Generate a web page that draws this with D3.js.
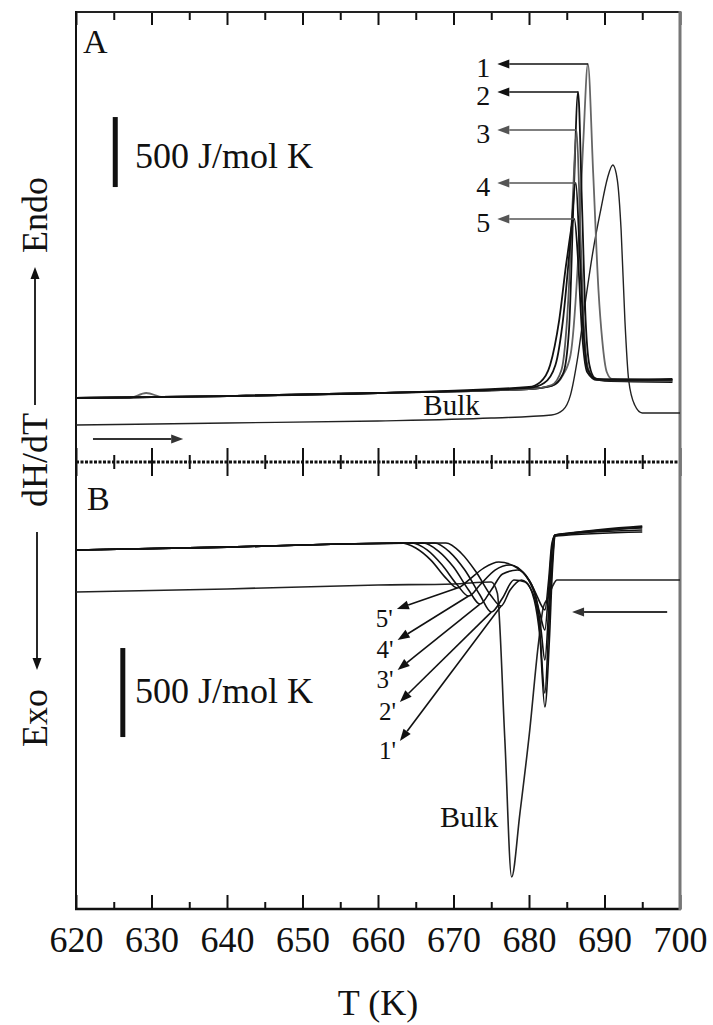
<!DOCTYPE html>
<html>
<head>
<meta charset="utf-8">
<script src="https://cdn.jsdelivr.net/npm/d3@7"></script>
<style>
  body { margin: 0; background: #fff; }
  text { font-family: "Liberation Serif", "DejaVu Serif", serif; fill: #111; }
</style>
</head>
<body>
<div id="container"></div>
<script>
"use strict";

const width = 713;
const height = 1025;

// temperature ticks
const majorTicks = [620, 630, 640, 650, 660, 670, 680, 690, 700];
const minorTicks = [625, 635, 645, 655, 665, 675, 685, 695];

// panel A (heating), dH/dT in J/mol K, offset baseline -> [T, value]
const heat1 = [[620,457],[627,457],[629.3,493],[631.5,464],[640,471],[660,493],[680,521],[683,543],[684.5,621],[685.5,764],[686.4,1350],[687.2,2300],[687.8,2843],[688.5,2064],[689.2,1229],[689.7,871],[690.3,643],[691,593],[699,586]];
const heat2 = [[620,457],[640,471],[660,493],[680,521],[683,543],[684.5,629],[685.3,943],[685.9,1871],[686.5,2643],[687,1871],[687.5,1014],[688,693],[688.7,600],[690,579],[699,571]];
const heat3 = [[620,457],[640,471],[660,493],[680,521],[683,550],[684.3,657],[685.2,1157],[685.8,1871],[686.3,2371],[686.8,1657],[687.3,943],[687.9,657],[689,586],[699,579]];
const heat4 = [[620,457],[640,471],[660,493],[680,529],[682,564],[683.5,693],[684.5,1014],[685.5,1586],[686.2,1993],[686.7,1514],[687.2,943],[687.8,657],[689,593],[699,586]];
const heat5 = [[620,457],[640,471],[660,493],[680,536],[681.5,571],[682.8,693],[684,1014],[685,1443],[686,1736],[686.5,1443],[687,943],[687.7,643],[689,586],[699,593]];
const heatBulk = [[620,264],[640,279],[660,293],[675,314],[683,336],[684.5,371],[685.5,479],[686.4,729],[687.5,1157],[688.5,1514],[689.5,1800],[690.4,2029],[691.1,2121],[691.7,2014],[692.2,1657],[692.7,1014],[693.2,586],[694,407],[695,350],[700,350]];

// panel B (cooling)
const cool5 = [[620,-494],[640,-478],[655,-461],[663,-455],[665,-483],[667,-551],[669,-652],[670.5,-708],[672,-663],[674,-596],[676,-562],[678,-584],[680,-663],[681,-747],[681.6,-803],[682.1,-831],[682.6,-663],[683,-466],[683.4,-416],[685,-404],[695,-360]];
const cool4 = [[620,-494],[640,-478],[655,-461],[664.5,-455],[666.5,-494],[668.5,-579],[670.5,-691],[672,-753],[673.5,-691],[675.5,-607],[677.5,-579],[679.5,-635],[680.8,-747],[681.5,-860],[682.1,-944],[682.6,-719],[683,-494],[683.4,-410],[688,-393],[695,-365]];
const cool3 = [[620,-494],[640,-478],[655,-461],[666,-455],[668,-500],[670,-590],[672,-719],[673.5,-798],[675,-719],[676.5,-629],[678.5,-607],[680,-663],[681,-775],[681.6,-944],[682.1,-1112],[682.6,-831],[683,-522],[683.4,-410],[695,-371]];
const cool2 = [[620,-494],[640,-478],[655,-461],[667.5,-455],[669.5,-506],[671.5,-607],[673.5,-747],[675,-843],[676.5,-764],[678,-663],[679.5,-674],[680.7,-775],[681.5,-1000],[682.1,-1298],[682.6,-944],[683.1,-551],[683.5,-410],[695,-382]];
const cool1 = [[620,-494],[640,-478],[655,-461],[669,-455],[671,-511],[673,-618],[675,-753],[676.3,-809],[677.5,-719],[679,-663],[680.3,-719],[681.3,-888],[682.1,-1376],[682.7,-1000],[683.1,-607],[683.5,-416],[695,-393]];
const coolBulk = [[620,-730],[640,-713],[660,-691],[670,-685],[675,-674],[675.8,-736],[676.8,-1560],[677.7,-2331],[678.8,-1972],[680.1,-1506],[681.2,-1039],[681.9,-815],[682.5,-764],[683.2,-691],[683.7,-663],[700,-663]];

// label pointers: label, arrow tip [T, value]
const heatLabels = ["1", "2", "3", "4", "5"];
const heatTipT = 675.8;
const coolLabels = ["1'", "2'", "3'", "4'", "5'"];
const coolTips = [[662.9,-1567],[662.9,-1348],[662.6,-1169],[662.6,-1000],[662.5,-826]];

const x = d3.scaleLinear().domain([620, 700]).range([76, 680]);
const yA = d3.scaleLinear().domain([0, 3200]).range([462, 14]);
const yB = d3.scaleLinear().domain([-2511, 0]).range([909, 462]);

const svg = d3.select("#container").append("svg")
    .attr("width", width)
    .attr("height", height);

// draw a line with a filled arrowhead at (x2,y2)
function arrow(g, x1, y1, x2, y2, color, w) {
    color = color || "#111";
    const a = Math.atan2(y2 - y1, x2 - x1);
    const L = 12, H = 4.5;
    const bx = x2 - L * Math.cos(a), by = y2 - L * Math.sin(a);
    g.append("line")
        .attr("x1", x1).attr("y1", y1).attr("x2", bx).attr("y2", by)
        .style("stroke", color).style("stroke-width", w || 1.6);
    g.append("path")
        .attr("d", "M" + x2 + "," + y2 +
            "L" + (bx - H * Math.sin(a)) + "," + (by + H * Math.cos(a)) +
            "L" + (bx + H * Math.sin(a)) + "," + (by - H * Math.cos(a)) + "Z")
        .style("fill", color);
}

// ---- axes / frame
const frame = svg.append("g");

function tickAxis(axisFn, ticks, size, ty) {
    const g = frame.append("g")
        .attr("transform", "translate(0," + ty + ")")
        .call(axisFn(x).tickValues(ticks).tickSizeInner(size).tickSizeOuter(0).tickFormat(""));
    g.select(".domain").remove();
    g.selectAll("line").style("stroke", "#111").style("stroke-width", 2);
    return g;
}
// top of A
tickAxis(d3.axisTop, majorTicks, -13, 12);
tickAxis(d3.axisTop, minorTicks, -8, 12);
// shared divider
tickAxis(d3.axisBottom, majorTicks, -14, 462);
tickAxis(d3.axisBottom, minorTicks, -7, 462);
tickAxis(d3.axisTop, majorTicks, -14, 462);
tickAxis(d3.axisTop, minorTicks, -7, 462);
// bottom of B with labels
tickAxis(d3.axisBottom, minorTicks, -7, 909);
const xAxis = frame.append("g")
    .attr("transform", "translate(0,909)")
    .call(d3.axisBottom(x).tickValues(majorTicks).tickSizeInner(-14).tickSizeOuter(0).tickPadding(17).tickFormat(d3.format("d")));
xAxis.select(".domain").remove();
xAxis.selectAll("line").style("stroke", "#111").style("stroke-width", 2);
xAxis.selectAll("text").style("font-size", "36px").style("font-family", "Liberation Serif, serif").attr("fill", "#111");

frame.append("line").attr("x1", 76).attr("x2", 680).attr("y1", 12).attr("y2", 12)
    .style("stroke", "#222").style("stroke-width", 1.8);
frame.append("line").attr("x1", 76).attr("x2", 680).attr("y1", 462).attr("y2", 462)
    .style("stroke", "#111").style("stroke-width", 3).style("stroke-dasharray", "3,1.5");
frame.append("line").attr("x1", 75).attr("x2", 681).attr("y1", 909).attr("y2", 909)
    .style("stroke", "#111").style("stroke-width", 2.5);
frame.append("line").attr("x1", 76).attr("x2", 76).attr("y1", 11).attr("y2", 910)
    .style("stroke", "#111").style("stroke-width", 2);
frame.append("line").attr("x1", 680).attr("x2", 680).attr("y1", 11).attr("y2", 910)
    .style("stroke", "#777").style("stroke-width", 3);

frame.append("text").attr("x", 378).attr("y", 1015).attr("text-anchor", "middle")
    .style("font-size", "36px").text("T (K)");

// ---- y label with endo / exo arrows
const ylab = svg.append("g");
[["Endo", 215], ["dH/dT", 460], ["Exo", 718]].forEach(d => {
    ylab.append("text")
        .attr("transform", "translate(47," + d[1] + ") rotate(-90)")
        .attr("text-anchor", "middle")
        .style("font-size", "36px")
        .text(d[0]);
});
arrow(ylab, 35, 405, 35, 267, "#111", 1.8);
arrow(ylab, 37, 532, 37, 670, "#111", 1.8);

// ---- curves
const lineA = d3.line().x(d => x(d[0])).y(d => yA(d[1])).curve(d3.curveMonotoneX);
const lineB = d3.line().x(d => x(d[0])).y(d => yB(d[1])).curve(d3.curveMonotoneX);

const gA = svg.append("g");
const heatCurves = [heat1, heat2, heat3, heat4, heat5];
const heatColors = ["#666", "#111", "#555", "#111", "#111"];
gA.append("path").attr("d", lineA(heatBulk))
    .style("fill", "none").style("stroke", "#222").style("stroke-width", 1.4);
heatCurves.forEach((c, i) => {
    gA.append("path").attr("d", lineA(c))
        .style("fill", "none").style("stroke", heatColors[i]).style("stroke-width", 1.8);
});

// peak pointers 1..5
heatCurves.forEach((c, i) => {
    const pk = c.reduce((a, b) => b[1] > a[1] ? b : a);
    const py = yA(pk[1]);
    arrow(gA, x(pk[0]), py, x(heatTipT), py, i >= 2 ? "#555" : "#111", 1.6);
    gA.append("text").attr("x", x(heatTipT) - 7).attr("y", py + 13)
        .attr("text-anchor", "end").style("font-size", "28px").text(heatLabels[i]);
});

gA.append("text").attr("x", x(666)).attr("y", yA(336))
    .style("font-size", "29px").text("Bulk");
gA.append("text").attr("x", 83).attr("y", 53).style("font-size", "34px").text("A");

// scale bar A
gA.append("line").attr("x1", x(625.2)).attr("x2", x(625.2)).attr("y1", yA(1964)).attr("y2", yA(2464))
    .style("stroke", "#111").style("stroke-width", 5);
gA.append("text").attr("x", x(627.8)).attr("y", yA(2464) + 51)
    .style("font-size", "36px").text("500 J/mol K");
// heating direction
arrow(gA, x(622.25), yA(164), x(634.2), yA(164), "#333", 2);

const gB = svg.append("g");
const coolCurves = [cool1, cool2, cool3, cool4, cool5];
gB.append("path").attr("d", lineB(coolBulk))
    .style("fill", "none").style("stroke", "#222").style("stroke-width", 1.6);
coolCurves.forEach(c => {
    gB.append("path").attr("d", lineB(c))
        .style("fill", "none").style("stroke", "#111").style("stroke-width", 1.6);
});

// pointers 1'..5' from curve minima of the exo shoulder
coolCurves.forEach((c, i) => {
    const mn = c.filter(d => d[0] < 677).reduce((a, b) => b[1] < a[1] ? b : a);
    const tip = coolTips[i];
    arrow(gB, x(mn[0]), yB(mn[1]), x(tip[0]), yB(tip[1]), "#111", 1.6);
    gB.append("text").attr("x", x(tip[0]) - 4).attr("y", yB(tip[1]) + 18)
        .attr("text-anchor", "end").style("font-size", "25px").text(coolLabels[i]);
});

gB.append("text").attr("x", x(668.2)).attr("y", yB(-2051))
    .style("font-size", "30px").text("Bulk");
gB.append("text").attr("x", 87).attr("y", 510).style("font-size", "34px").text("B");

// scale bar B
gB.append("line").attr("x1", x(626.2)).attr("x2", x(626.2)).attr("y1", yB(-1045)).attr("y2", yB(-1545))
    .style("stroke", "#111").style("stroke-width", 5);
gB.append("text").attr("x", x(627.8)).attr("y", yB(-1045) + 55)
    .style("font-size", "36px").text("500 J/mol K");
// cooling direction
arrow(gB, x(698.3), yB(-843), x(685.7), yB(-843), "#333", 2);
</script>
</body>
</html>
